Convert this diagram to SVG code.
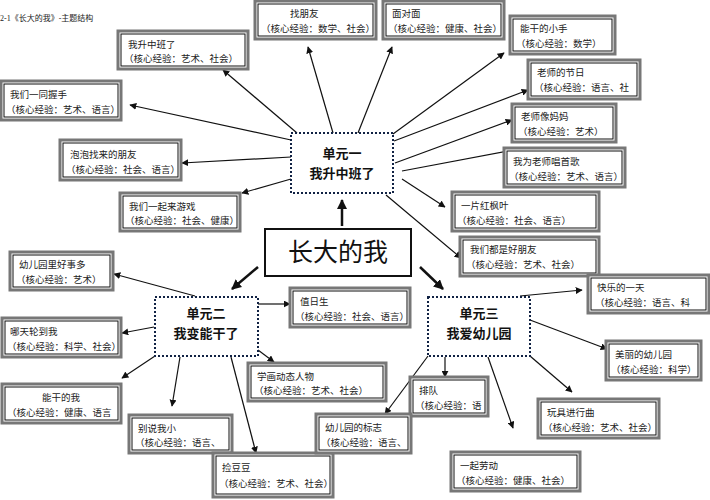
<svg xmlns="http://www.w3.org/2000/svg" width="710" height="500" viewBox="0 0 710 500">
<style>
.bo{fill:#fff;stroke:#777;stroke-width:3}
.bi{fill:none;stroke:#111;stroke-width:1}
.t{font-family:"Liberation Serif","Noto Sans CJK SC",serif;font-size:9.5px;fill:#222}
.u{fill:#fff;stroke:#124;stroke-width:2;stroke-dasharray:2 2}
.ut{font-family:"Liberation Sans","Noto Sans CJK SC",sans-serif;font-size:13px;font-weight:bold;fill:#111;text-anchor:middle}
.c line{stroke:#111;stroke-width:1.2;marker-end:url(#a)}
.c .th{stroke-width:2.5;marker-end:url(#b)}
</style>
<defs>
<marker id="a" viewBox="0 0 10 10" refX="9" refY="5" markerWidth="7" markerHeight="7" markerUnits="userSpaceOnUse" orient="auto"><path d="M0 0L10 5L0 10z" fill="#111"/></marker>
<marker id="b" viewBox="0 0 10 10" refX="9" refY="5" markerWidth="4" markerHeight="4" orient="auto"><path d="M0 0L10 5L0 10z" fill="#111"/></marker>
</defs>
<text x="0" y="21" font-family="Liberation Serif,Noto Sans CJK SC,serif" font-size="8" fill="#222">2-1《长大的我》-主题结构</text>
<g class="c">
<line x1="333" y1="133" x2="308" y2="47"/>
<line x1="297" y1="133" x2="223" y2="70"/>
<line x1="291" y1="140" x2="130" y2="105"/>
<line x1="291" y1="157" x2="182" y2="163"/>
<line x1="291" y1="179" x2="242" y2="193"/>
<line x1="358" y1="133" x2="392" y2="47"/>
<line x1="393" y1="134" x2="504" y2="53"/>
<line x1="394" y1="141" x2="528" y2="90"/>
<line x1="395" y1="163" x2="512" y2="120"/>
<line x1="402" y1="171" x2="513" y2="150"/>
<line x1="402" y1="179" x2="445" y2="207"/>
<line x1="386" y1="195" x2="461" y2="258"/>
<line class="th" x1="342" y1="226" x2="342" y2="200"/>
<line class="th" x1="258" y1="267" x2="232" y2="289"/>
<line class="th" x1="420" y1="267" x2="443" y2="289"/>
<line x1="195" y1="296" x2="114" y2="274"/>
<line x1="154" y1="327" x2="122" y2="333"/>
<line x1="155" y1="356" x2="122" y2="378"/>
<line x1="180" y1="357" x2="172" y2="406"/>
<line x1="231" y1="357" x2="256" y2="453"/>
<line x1="258" y1="304" x2="290" y2="304"/>
<line x1="258" y1="350" x2="274" y2="362"/>
<line x1="520" y1="296" x2="582" y2="290"/>
<line x1="530" y1="320" x2="607" y2="349"/>
<line x1="530" y1="356" x2="572" y2="392"/>
<line x1="488" y1="357" x2="513" y2="428"/>
<line x1="445" y1="357" x2="445" y2="377"/>
<line x1="428" y1="356" x2="385" y2="414"/>
</g>
<g id="n1"><rect class="bo" x="255" y="1" width="121" height="38"/><rect class="bi" x="258" y="4" width="115" height="32"/><text class="t" x="290" y="17">找朋友</text><text class="t" x="261" y="32">（核心经验：数学、社会）</text></g>
<g id="n2"><rect class="bo" x="383" y="1" width="121" height="38"/><rect class="bi" x="386" y="4" width="115" height="32"/><text class="t" x="392" y="17">面对面</text><text class="t" x="388" y="32">（核心经验：健康、社会）</text></g>
<g id="n3"><rect class="bo" x="510" y="16" width="105" height="38"/><rect class="bi" x="513" y="19" width="99" height="32"/><text class="t" x="520" y="32">能干的小手</text><text class="t" x="516" y="47">（核心经验：数学）</text></g>
<g id="n4"><rect class="bo" x="528" y="60" width="112" height="39"/><rect class="bi" x="531" y="63" width="106" height="33"/><text class="t" x="537" y="76">老师的节日</text><text class="t" x="534" y="91">（核心经验：语言、社</text></g>
<g id="n5"><rect class="bo" x="512" y="104" width="104" height="38"/><rect class="bi" x="515" y="107" width="98" height="32"/><text class="t" x="521" y="120">老师像妈妈</text><text class="t" x="518" y="135">（核心经验：艺术）</text></g>
<g id="n6"><rect class="bo" x="504" y="148" width="121" height="39"/><rect class="bi" x="507" y="151" width="115" height="33"/><text class="t" x="513" y="165">我为老师唱首歌</text><text class="t" x="509" y="180">（核心经验：艺术、语言）</text></g>
<g id="n7"><rect class="bo" x="452" y="192" width="147" height="39"/><rect class="bi" x="455" y="195" width="141" height="33"/><text class="t" x="461" y="209">一片红枫叶</text><text class="t" x="457" y="224">（核心经验：社会、语言）</text></g>
<g id="n8"><rect class="bo" x="460" y="237" width="139" height="39"/><rect class="bi" x="463" y="240" width="133" height="33"/><text class="t" x="470" y="253">我们都是好朋友</text><text class="t" x="466" y="268">（核心经验：艺术、社会）</text></g>
<g id="n9"><rect class="bo" x="118" y="31" width="130" height="38"/><rect class="bi" x="121" y="34" width="124" height="32"/><text class="t" x="128" y="48">我升中班了</text><text class="t" x="124" y="62">（核心经验：艺术、社会）</text></g>
<g id="n10"><rect class="bo" x="1" y="81" width="120" height="39"/><rect class="bi" x="4" y="84" width="114" height="33"/><text class="t" x="10" y="98">我们一同握手</text><text class="t" x="6" y="113">（核心经验：艺术、语言）</text></g>
<g id="n11"><rect class="bo" x="60" y="140" width="121" height="40"/><rect class="bi" x="63" y="143" width="115" height="34"/><text class="t" x="70" y="158">泡泡找来的朋友</text><text class="t" x="66" y="173">（核心经验：社会、语言）</text></g>
<g id="n12"><rect class="bo" x="120" y="193" width="120" height="38"/><rect class="bi" x="123" y="196" width="114" height="32"/><text class="t" x="129" y="210">我们一起来游戏</text><text class="t" x="125" y="224">（核心经验：社会、健康）</text></g>
<g id="u1"><rect class="u" x="291" y="133" width="102" height="60"/><text class="ut" x="342" y="158">单元一</text><text class="ut" x="342" y="178">我升中班了</text></g>
<g id="root"><rect x="265" y="229" width="146" height="47" fill="#fff" stroke="#111" stroke-width="2"/><text x="338" y="261" text-anchor="middle" font-family="Liberation Sans,Noto Sans CJK SC,sans-serif" font-size="25" fill="#111">长大的我</text></g>
<g id="u2"><rect class="u" x="155" y="297" width="103" height="59"/><text class="ut" x="206" y="318">单元二</text><text class="ut" x="206" y="338">我变能干了</text></g>
<g id="u3"><rect class="u" x="428" y="297" width="102" height="59"/><text class="ut" x="479" y="318">单元三</text><text class="ut" x="479" y="338">我爱幼儿园</text></g>
<g id="n13"><rect class="bo" x="10" y="252" width="103" height="38"/><rect class="bi" x="13" y="255" width="97" height="32"/><text class="t" x="19" y="268">幼儿园里好事多</text><text class="t" x="16" y="283">（核心经验：艺术）</text></g>
<g id="n14"><rect class="bo" x="2" y="318" width="119" height="39"/><rect class="bi" x="5" y="321" width="113" height="33"/><text class="t" x="10" y="335">哪天轮到我</text><text class="t" x="7" y="350">（核心经验：科学、社会）</text></g>
<g id="n15"><rect class="bo" x="2" y="384" width="119" height="39"/><rect class="bi" x="5" y="387" width="113" height="33"/><text class="t" x="42" y="401">能干的我</text><text class="t" x="7" y="416">（核心经验：健康、语言</text></g>
<g id="n16"><rect class="bo" x="129" y="415" width="103" height="38"/><rect class="bi" x="132" y="418" width="97" height="32"/><text class="t" x="138" y="432">别说我小</text><text class="t" x="135" y="446">（核心经验：语言、</text></g>
<g id="n17"><rect class="bo" x="213" y="453" width="120" height="44"/><rect class="bi" x="216" y="456" width="114" height="38"/><text class="t" x="222" y="471">捡豆豆</text><text class="t" x="219" y="487">（核心经验：艺术、社会）</text></g>
<g id="n18"><rect class="bo" x="290" y="288" width="120" height="39"/><rect class="bi" x="293" y="291" width="114" height="33"/><text class="t" x="300" y="305">值日生</text><text class="t" x="295" y="320">（核心经验：社会、语言）</text></g>
<g id="n19"><rect class="bo" x="248" y="363" width="138" height="38"/><rect class="bi" x="251" y="366" width="132" height="32"/><text class="t" x="257" y="380">学画动态人物</text><text class="t" x="254" y="394">（核心经验：艺术、社会）</text></g>
<g id="n20"><rect class="bo" x="410" y="377" width="78" height="39"/><rect class="bi" x="413" y="380" width="72" height="33"/><text class="t" x="419" y="394">排队</text><text class="t" x="415" y="409">（核心经验：语</text></g>
<g id="n21"><rect class="bo" x="316" y="414" width="95" height="39"/><rect class="bi" x="319" y="417" width="89" height="33"/><text class="t" x="325" y="431">幼儿园的标志</text><text class="t" x="321" y="446">（核心经验：语言、</text></g>
<g id="n22"><rect class="bo" x="588" y="275" width="121" height="38"/><rect class="bi" x="591" y="278" width="115" height="32"/><text class="t" x="597" y="291">快乐的一天</text><text class="t" x="595" y="306">（核心经验：语言、科</text></g>
<g id="n23"><rect class="bo" x="606" y="341" width="95" height="39"/><rect class="bi" x="609" y="344" width="89" height="33"/><text class="t" x="615" y="358">美丽的幼儿园</text><text class="t" x="611" y="373">（核心经验：科学）</text></g>
<g id="n24"><rect class="bo" x="538" y="399" width="121" height="39"/><rect class="bi" x="541" y="402" width="115" height="33"/><text class="t" x="547" y="416">玩具进行曲</text><text class="t" x="543" y="431">（核心经验：艺术、社会）</text></g>
<g id="n25"><rect class="bo" x="451" y="452" width="129" height="39"/><rect class="bi" x="454" y="455" width="123" height="33"/><text class="t" x="460" y="469">一起劳动</text><text class="t" x="456" y="484">（核心经验：健康、社会）</text></g>
</svg>
